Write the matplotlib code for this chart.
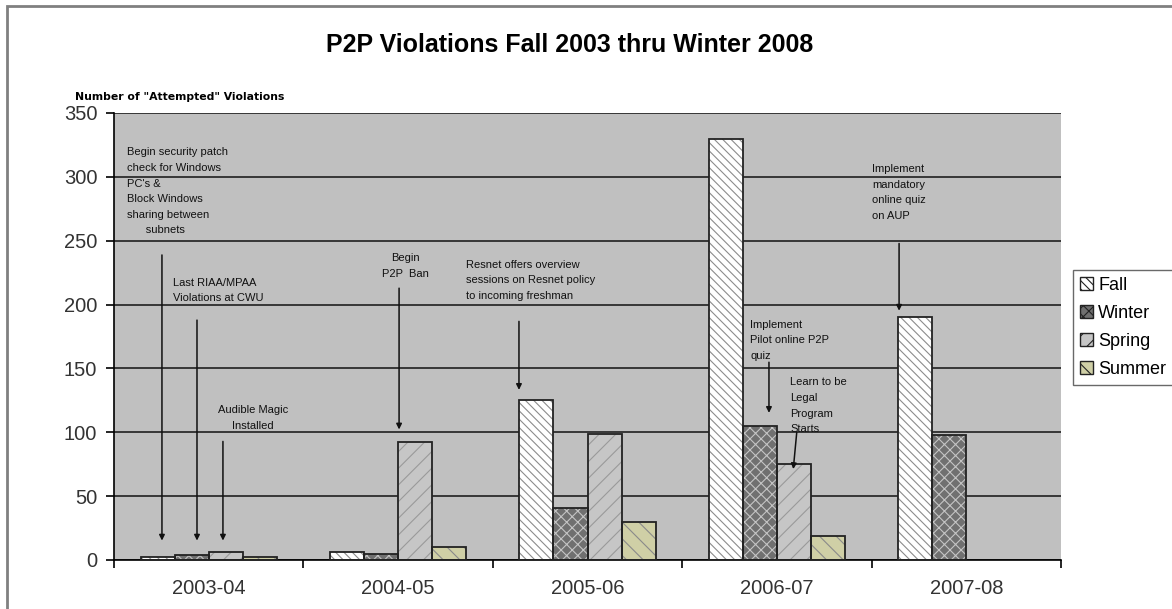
import matplotlib
matplotlib.use("Agg")
import matplotlib.pyplot as plt
import numpy as np
from matplotlib.patches import Rectangle, Patch

# datos
anios = ["2003-04", "2004-05", "2005-06", "2006-07", "2007-08"]
estaciones = ["Fall", "Winter", "Spring", "Summer"]
fall = [2, 6, 125, 330, 190]
winter = [4, 5, 41, 105, 98]
spring = [6, 92, 99, 75, np.nan]
summer = [2, 10, 30, 19, np.nan]

# estilo de cada serie: relleno, color de trama, trama
estilos = [
    ("white", "#8c8c8c", "\\\\\\\\"),
    ("#707070", "#c4c4c4", "xxx"),
    ("#c6c6c6", "#9a9a9a", "//"),
    ("#cfcfa6", "#8a8a8a", "\\\\"),
]

# notas: texto, posicion del texto, inicio y fin de la flecha
notas = [
    ("Begin security patch\ncheck for Windows\nPC's &\nBlock Windows\nsharing between\n      subnets",
     (-0.43, 323), "left", (-0.247, 241), (-0.247, 13)),
    ("Last RIAA/MPAA\nViolations at CWU", (-0.19, 221), "left", (-0.062, 190), (-0.062, 13)),
    ("Audible Magic\nInstalled", (0.234, 121), "center", (0.075, 95), (0.075, 13)),
    ("Begin\nP2P  Ban", (1.036, 240), "center", (1.005, 215), (1.005, 100)),
    ("Resnet offers overview\nsessions on Resnet policy\nto incoming freshman",
     (1.358, 235), "left", (1.638, 189), (1.638, 131)),
    ("Implement\nPilot online P2P\nquiz", (2.858, 188), "left", (2.958, 157), (2.958, 113)),
    ("Learn to be\nLegal\nProgram\nStarts", (3.069, 143), "left", (3.106, 102), (3.085, 69)),
    ("Implement\nmandatory\nonline quiz\non AUP", (3.502, 310), "left", (3.645, 250), (3.645, 193)),
]

plt.rcParams["font.family"] = ["Liberation Sans", "DejaVu Sans"]
plt.rcParams["hatch.linewidth"] = 0.8

fig = plt.figure(figsize=(11.72, 6.09), dpi=100)
ax = fig.add_axes([0.0973, 0.0805, 0.808, 0.734])
ax.set_facecolor("#c0c0c0")

# marco de la figura
fig.patches.append(Rectangle((0.006, -0.1), 1.2, 1.09, transform=fig.transFigure,
                             fill=False, edgecolor="#808080", lw=2))

x = np.arange(len(anios))
ancho = 0.18
series = [fall, winter, spring, summer]
for i, (valores, (relleno, trama_col, trama)) in enumerate(zip(series, estilos)):
    pos = x + (i - 1.5) * ancho
    ax.bar(pos, valores, ancho, color=relleno, edgecolor=trama_col, hatch=trama, lw=0, zorder=2)
    ax.bar(pos, valores, ancho, fill=False, edgecolor="#222222", lw=1.3, zorder=3)

ax.set_xlim(-0.5, len(anios) - 0.5)
ax.set_ylim(0, 350)
ax.set_yticks(range(0, 351, 50))
ax.yaxis.grid(True, color="#202020", lw=1.2)
ax.set_axisbelow(True)
ax.set_xticks(np.arange(-0.5, len(anios), 1.0))
ax.set_xticklabels([])
ax.set_xticks(x, minor=True)
ax.set_xticklabels(anios, minor=True)
ax.tick_params(axis="x", which="major", length=6, width=1.2, direction="out")
ax.tick_params(axis="x", which="minor", length=0, pad=14, labelsize=14.5, labelcolor="#333333")
ax.tick_params(axis="y", length=6, width=1.2, labelsize=14.5, labelcolor="#333333", pad=6)
for lado in ["top", "right"]:
    ax.spines[lado].set_visible(False)
for lado in ["left", "bottom"]:
    ax.spines[lado].set_linewidth(1.2)

for texto, xy_texto, alin, inicio, fin in notas:
    ax.text(xy_texto[0], xy_texto[1], texto, ha=alin, va="top", fontsize=8,
            linespacing=1.7, color="#111111", zorder=5)
    ax.annotate("", xy=fin, xytext=inicio,
                arrowprops=dict(arrowstyle="-|>", color="#111111", lw=1.1, mutation_scale=8),
                zorder=5)

fig.text(0.486, 0.926, "P2P Violations Fall 2003 thru Winter 2008", ha="center", va="center",
         fontsize=18, fontweight="bold")
fig.text(0.064, 0.84, 'Number of "Attempted" Violations', ha="left", va="center",
         fontsize=7.8, fontweight="bold", family="DejaVu Sans")

manejadores = [Patch(facecolor=r, edgecolor="#222222", hatch=t, lw=1) for r, _, t in estilos]
ax.legend(manejadores, estaciones, loc="upper left", bbox_to_anchor=(0.9155, 0.557),
          bbox_transform=fig.transFigure,
          fontsize=13, frameon=True, fancybox=False, edgecolor="#444444",
          handlelength=0.7, handleheight=0.7, handletextpad=0.3, labelspacing=0.6,
          borderpad=0.4, borderaxespad=0)

fig.savefig("out.png", dpi=100)
